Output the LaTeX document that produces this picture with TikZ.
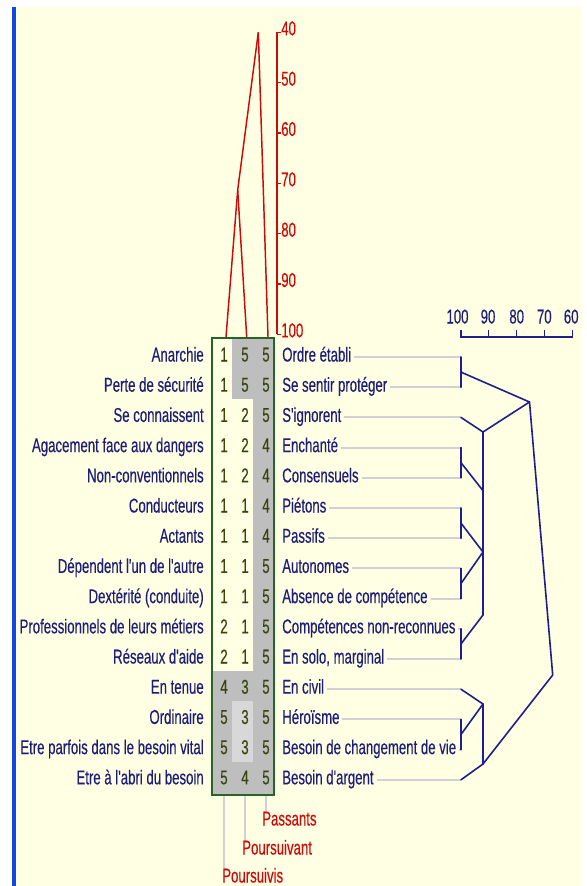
\documentclass[tikz,border=0pt]{standalone}
\usepackage{fontspec}
\usetikzlibrary{calc}
\newfontfamily\lblfont[FakeStretch=0.66,FakeBold=0.35]{Liberation Sans}
\definecolor{bgyellow}{RGB}{255,255,228}
\definecolor{barblue}{RGB}{20,70,225}
\definecolor{navytext}{RGB}{30,30,120}
\definecolor{navyline}{RGB}{30,30,140}
\definecolor{redline}{RGB}{205,10,10}
\definecolor{boxgreen}{RGB}{40,100,40}
\definecolor{digitcol}{RGB}{55,70,15}
\definecolor{darkgrey}{RGB}{190,190,190}
\definecolor{lightgrey}{RGB}{216,216,216}
\definecolor{guidegrey}{RGB}{208,208,214}
\begin{document}
\begin{tikzpicture}[x=0.75pt,y=-0.75pt,
  lbl/.style={font=\lblfont\fontsize{15pt}{18pt}\selectfont, inner sep=0pt, text=navytext},
  redlbl/.style={lbl, text=redline},
  digit/.style={lbl, text=digitcol, anchor=base},
  greyline/.style={draw=guidegrey, line width=1.5pt},
  dendro/.style={draw=navyline, line width=1.2pt, line join=round, line cap=round},
  redtree/.style={draw=redline, line width=1.1pt, line join=round},
  gridbox/.style={draw=boxgreen, line width=1.4pt}]
% background
\fill[white] (0,0) rectangle (586,886);
\useasboundingbox (0,0) rectangle (586,886);
\fill[bgyellow] (16,7) rectangle (582,886);
\fill[barblue] (12,7) rectangle (16,886);

% red scale on top
\draw[redline, line width=1pt] (277,32.3) -- (277,334.3);
\foreach \v in {40,50,...,100}{
  \pgfmathsetmacro\ty{32.3+(\v-40)*5.033}
  \draw[redline, line width=1pt] (277,\ty) -- (281,\ty);
  \node[redlbl, anchor=base west] (s\v) at (281,\ty+3) {\v};
}
% red tree
\coordinate (t1) at (226,337);
\coordinate (t2) at (246.7,337);
\coordinate (t3) at (268,337);
\coordinate (J) at (237.7,190);
\coordinate (A) at (258.3,32.3);
\draw[redtree] (t1) -- (J) -- (A);
\draw[redtree] (t2) -- (J);
\draw[redtree] (t3) -- (A);

% grid shading
\fill[darkgrey] (253,338) rectangle (274,795);
\fill[darkgrey] (232,338) rectangle (253,399.4);
\fill[darkgrey] (212,671) rectangle (253,795);
\fill[lightgrey] (232,701.2) rectangle (253,761.6);

% rows
\foreach \i/\l/\r/\a/\b/\c in {
 1/Anarchie/Ordre établi/1/5/5,
 2/Perte de sécurité/Se sentir protéger/1/5/5,
 3/Se connaissent/S'ignorent/1/2/5,
 4/Agacement face aux dangers/Enchanté/1/2/4,
 5/Non-conventionnels/Consensuels/1/2/4,
 6/Conducteurs/Piétons/1/1/4,
 7/Actants/Passifs/1/1/4,
 8/Dépendent l'un de l'autre/Autonomes/1/1/5,
 9/Dextérité (conduite)/Absence de compétence/1/1/5,
 10/Professionnels de leurs métiers/Compétences non-reconnues/2/1/5,
 11/Réseaux d'aide/{En solo, marginal}/2/1/5,
 12/En tenue/En civil/4/3/5,
 13/Ordinaire/Héroïsme/5/3/5,
 14/Etre parfois dans le besoin vital/Besoin de changement de vie/5/3/5,
 15/Etre à l'abri du besoin/Besoin d'argent/5/4/5}{
  \pgfmathsetmacro\y{354+30.2*(\i-1)}
  \node[lbl, anchor=base east] (l\i) at (204,\y+7.5) {\l};
  \node[lbl, anchor=base west] (r\i) at (282,\y+7.5) {\r};
  \node[digit] (da\i) at (224,\y+7.5) {\a};
  \node[digit] (db\i) at (245,\y+7.5) {\b};
  \node[digit] (dc\i) at (266,\y+7.5) {\c};
  \coordinate (k\i) at (461,\y+3);
  \draw[greyline] ([xshift=2pt]r\i.base east |- k\i) -- (k\i);
}
% grid box
\draw[gridbox] (212,338) rectangle (274,795);

% bottom column labels
\coordinate (b1) at (224,796);
\coordinate (b2) at (245,796);
\coordinate (b3) at (266,796);
\node[redlbl, anchor=base west] (p3) at (262,825.5) {Passants};
\node[redlbl, anchor=base west] (p2) at (242,854.5) {Poursuivant};
\node[redlbl, anchor=base west] (p1) at (222,882.5) {Poursuivis};
\draw[greyline, line width=1pt] (b1) -- (b1 |- p1.north);
\draw[greyline, line width=1pt] (b2) -- (b2 |- p2.north);
\draw[greyline, line width=1pt] (b3) -- (b3 |- p3.north);

% right scale
\draw[navyline, line width=1.2pt] (460.7,330) -- (460.7,336.7) -- (572.3,336.7) -- (572.3,330);
\foreach \v in {90,80,70}{
  \pgfmathsetmacro\sx{460.7+(100-\v)*2.79}
  \draw[navyline, line width=1.2pt] (\sx,330) -- (\sx,336.7);
}
\node[lbl, anchor=base] (g100) at (457.5,323.5) {100};
\node[lbl, anchor=base] (g90) at (488,323.5) {90};
\node[lbl, anchor=base] (g80) at (516.7,323.5) {80};
\node[lbl, anchor=base] (g70) at (544.3,323.5) {70};
\node[lbl, anchor=base] (g60) at (571.2,323.5) {60};

% dendrogram
\coordinate (T) at (529.5,402);
\coordinate (B1) at (483,432);
\coordinate (B2) at (483,490.7);
\coordinate (B3) at (483,552);
\coordinate (B4) at (483,615);
\coordinate (C1) at (483,704);
\coordinate (C2) at (483,764);
\coordinate (R) at (552.7,675);
\draw[dendro] (k1) -- (k2);
\draw[dendro] (k4) -- (k5);
\draw[dendro] (k6) -- (k7);
\draw[dendro] (k8) -- (k9);
\draw[dendro] (k10) -- (k11);
\draw[dendro] (k13) -- (k14);
\draw[dendro] ($(k1)!0.5!(k2)$) -- (T) -- (B1);
\draw[dendro] (k3) -- (B1) -- (B4);
\draw[dendro] ($(k4)!0.5!(k5)$) -- (B2);
\draw[dendro] ($(k6)!0.5!(k7)$) -- (B3);
\draw[dendro] ($(k8)!0.5!(k9)$) -- (B3);
\draw[dendro] ($(k10)!0.5!(k11)$) -- (B4);
\draw[dendro] (T) -- (R) -- (C2);
\draw[dendro] (k12) -- (C1) -- (C2) -- (k15);
\draw[dendro] ($(k13)!0.5!(k14)$) -- (C1);
\end{tikzpicture}
\end{document}
